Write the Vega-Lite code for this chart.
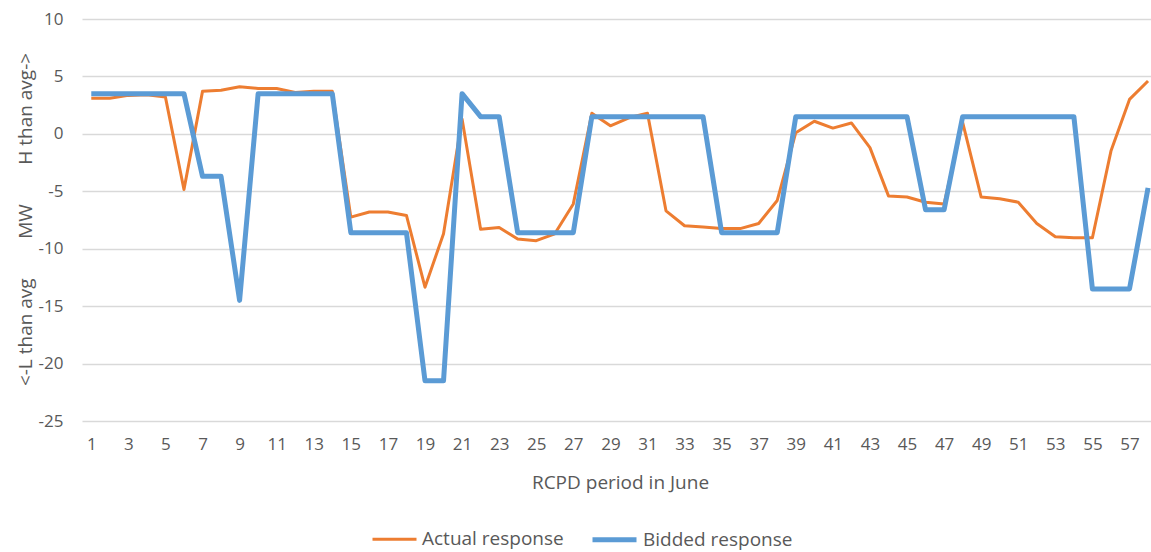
{
  "$schema": "https://vega.github.io/schema/vega-lite/v6.json",
  "width": 1069,
  "height": 402,
  "autosize": {"type": "none"},
  "padding": {"left": 82, "top": 19, "right": 0, "bottom": 131},
  "background": "white",
  "config": {"view": {"stroke": null}, "font": "Open Sans"},
  "data": {"values": [
    {"p": 1, "Actual response": 3.1, "Bidded response": 3.5},
    {"p": 2, "Actual response": 3.1, "Bidded response": 3.5},
    {"p": 3, "Actual response": 3.35, "Bidded response": 3.5},
    {"p": 4, "Actual response": 3.4, "Bidded response": 3.5},
    {"p": 5, "Actual response": 3.2, "Bidded response": 3.5},
    {"p": 6, "Actual response": -4.85, "Bidded response": 3.5},
    {"p": 7, "Actual response": 3.7, "Bidded response": -3.7},
    {"p": 8, "Actual response": 3.8, "Bidded response": -3.7},
    {"p": 9, "Actual response": 4.1, "Bidded response": -14.5},
    {"p": 10, "Actual response": 3.95, "Bidded response": 3.5},
    {"p": 11, "Actual response": 3.95, "Bidded response": 3.5},
    {"p": 12, "Actual response": 3.6, "Bidded response": 3.5},
    {"p": 13, "Actual response": 3.7, "Bidded response": 3.5},
    {"p": 14, "Actual response": 3.7, "Bidded response": 3.5},
    {"p": 15, "Actual response": -7.25, "Bidded response": -8.6},
    {"p": 16, "Actual response": -6.8, "Bidded response": -8.6},
    {"p": 17, "Actual response": -6.8, "Bidded response": -8.6},
    {"p": 18, "Actual response": -7.1, "Bidded response": -8.6},
    {"p": 19, "Actual response": -13.35, "Bidded response": -21.5},
    {"p": 20, "Actual response": -8.7, "Bidded response": -21.5},
    {"p": 21, "Actual response": 1.3, "Bidded response": 3.5},
    {"p": 22, "Actual response": -8.3, "Bidded response": 1.5},
    {"p": 23, "Actual response": -8.15, "Bidded response": 1.5},
    {"p": 24, "Actual response": -9.15, "Bidded response": -8.6},
    {"p": 25, "Actual response": -9.3, "Bidded response": -8.6},
    {"p": 26, "Actual response": -8.7, "Bidded response": -8.6},
    {"p": 27, "Actual response": -6.1, "Bidded response": -8.6},
    {"p": 28, "Actual response": 1.8, "Bidded response": 1.5},
    {"p": 29, "Actual response": 0.7, "Bidded response": 1.5},
    {"p": 30, "Actual response": 1.4, "Bidded response": 1.5},
    {"p": 31, "Actual response": 1.8, "Bidded response": 1.5},
    {"p": 32, "Actual response": -6.7, "Bidded response": 1.5},
    {"p": 33, "Actual response": -8.0, "Bidded response": 1.5},
    {"p": 34, "Actual response": -8.1, "Bidded response": 1.5},
    {"p": 35, "Actual response": -8.25, "Bidded response": -8.6},
    {"p": 36, "Actual response": -8.25, "Bidded response": -8.6},
    {"p": 37, "Actual response": -7.8, "Bidded response": -8.6},
    {"p": 38, "Actual response": -5.8, "Bidded response": -8.6},
    {"p": 39, "Actual response": 0.1, "Bidded response": 1.5},
    {"p": 40, "Actual response": 1.1, "Bidded response": 1.5},
    {"p": 41, "Actual response": 0.5, "Bidded response": 1.5},
    {"p": 42, "Actual response": 0.95, "Bidded response": 1.5},
    {"p": 43, "Actual response": -1.2, "Bidded response": 1.5},
    {"p": 44, "Actual response": -5.4, "Bidded response": 1.5},
    {"p": 45, "Actual response": -5.5, "Bidded response": 1.5},
    {"p": 46, "Actual response": -5.95, "Bidded response": -6.6},
    {"p": 47, "Actual response": -6.1, "Bidded response": -6.6},
    {"p": 48, "Actual response": 1.0, "Bidded response": 1.5},
    {"p": 49, "Actual response": -5.5, "Bidded response": 1.5},
    {"p": 50, "Actual response": -5.65, "Bidded response": 1.5},
    {"p": 51, "Actual response": -5.95, "Bidded response": 1.5},
    {"p": 52, "Actual response": -7.8, "Bidded response": 1.5},
    {"p": 53, "Actual response": -8.95, "Bidded response": 1.5},
    {"p": 54, "Actual response": -9.05, "Bidded response": 1.5},
    {"p": 55, "Actual response": -9.05, "Bidded response": -13.5},
    {"p": 56, "Actual response": -1.5, "Bidded response": -13.5},
    {"p": 57, "Actual response": 3.0, "Bidded response": -13.5},
    {"p": 58, "Actual response": 4.6, "Bidded response": -4.7}
  ]},
  "transform": [{"fold": ["Actual response", "Bidded response"], "as": ["series", "value"]}],
  "mark": {"type": "line", "strokeJoin": "round"},
  "encoding": {
    "x": {
      "field": "p", "type": "quantitative",
      "scale": {"domain": [0.5, 58.16], "nice": false, "zero": false},
      "axis": {
        "values": [1,3,5,7,9,11,13,15,17,19,21,23,25,27,29,31,33,35,37,39,41,43,45,47,49,51,53,55,57],
        "grid": false, "domain": false, "ticks": false,
        "labelPadding": 15, "labelFontSize": 17, "labelColor": "#595959", "labelFlush": false,
        "title": "RCPD period in June", "titleFontSize": 19, "titleFontWeight": "normal", "titleColor": "#595959",
        "titleX": 538, "titleY": 61, "titleBaseline": "middle", "titleAlign": "center"
      }
    },
    "y": {
      "field": "value", "type": "quantitative",
      "scale": {"domain": [-25, 10], "nice": false, "zero": false},
      "axis": {
        "values": [-25,-20,-15,-10,-5,0,5,10],
        "labelExpr": "'' + datum.value",
        "domain": false, "ticks": false,
        "labelPadding": 19, "labelFontSize": 17, "labelColor": "#595959",
        "gridColor": "#D9D9D9", "gridWidth": 1.3,
        "title": "<-L than avg\u00a0\u00a0\u00a0\u00a0\u00a0\u00a0\u00a0\u00a0MW\u00a0\u00a0\u00a0\u00a0\u00a0\u00a0\u00a0\u00a0H than avg->",
        "titleFontSize": 19, "titleFontWeight": "normal", "titleColor": "#595959",
        "titleX": -57, "titleY": 200, "titleAngle": -90, "titleAlign": "center", "titleBaseline": "middle"
      }
    },
    "color": {
      "field": "series", "type": "nominal",
      "scale": {"domain": ["Actual response", "Bidded response"], "range": ["#ED7D31", "#5B9BD5"]},
      "legend": {
        "orient": "none", "legendX": 289, "legendY": 496, "direction": "horizontal",
        "title": null, "symbolType": "stroke", "symbolSize": 1936,
        "labelFontSize": 19, "labelColor": "#595959", "labelOffset": 4, "columnPadding": 18
      }
    },
    "strokeWidth": {
      "field": "series", "type": "nominal",
      "scale": {"domain": ["Actual response", "Bidded response"], "range": [3, 5]},
      "legend": {
        "orient": "none", "legendX": 289, "legendY": 496, "direction": "horizontal",
        "title": null, "symbolType": "stroke", "symbolSize": 1936,
        "labelFontSize": 19, "labelColor": "#595959", "labelOffset": 4, "columnPadding": 18
      }
    }
  }
}
